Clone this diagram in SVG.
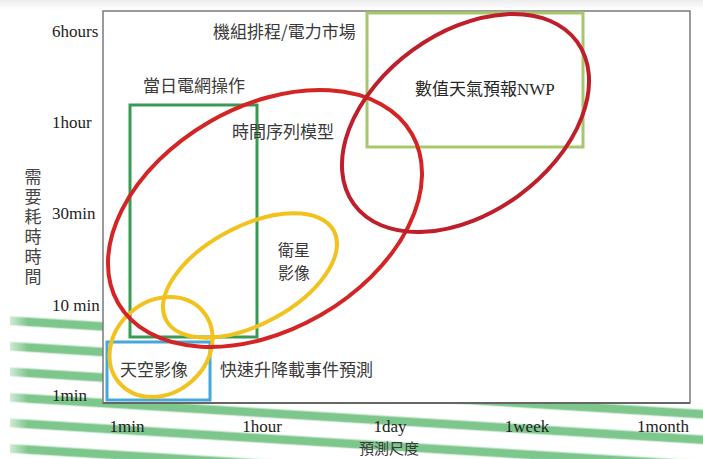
<svg xmlns="http://www.w3.org/2000/svg" width="703" height="459" viewBox="0 0 703 459">
  <defs>
    <style>
      .ax{font-family:"Liberation Serif","Times New Roman",serif;font-size:17px;fill:#1e1e1e}
      .cj{font-family:"Noto Sans CJK TC","Noto Sans CJK SC",sans-serif;font-size:17px;fill:#3a3a3a}
      .red{fill:none;stroke:#d42424;stroke-width:4}
      .red2{fill:none;stroke:#bf1f2a;stroke-width:4}
      .yel{fill:none;stroke:#f2c21e;stroke-width:4}
    </style>
    <pattern id="stripes" patternUnits="userSpaceOnUse" width="703" height="25.5" patternTransform="rotate(3.5)">
      <rect x="0" y="9.5" width="703" height="8" fill="#7dc68c"/>
      <rect x="0" y="8.5" width="703" height="10" fill="#7dc68c" opacity="0.35"/>
    </pattern>
    <clipPath id="stripeClip">
      <polygon points="10,316 110,316 110,403 703,403 703,459 10,459"/>
    </clipPath>
    <linearGradient id="fadeL" x1="0" y1="0" x2="1" y2="0">
      <stop offset="0" stop-color="#fff" stop-opacity="1"/>
      <stop offset="1" stop-color="#fff" stop-opacity="0"/>
    </linearGradient>
    <linearGradient id="topG" x1="0" y1="0" x2="0" y2="1">
      <stop offset="0" stop-color="#ececec"/>
      <stop offset="1" stop-color="#ffffff"/>
    </linearGradient>
  </defs>

  <g id="background">
    <rect x="0" y="0" width="703" height="459" fill="#ffffff"/>
    <rect x="0" y="0" width="703" height="10" fill="url(#topG)"/>
    <rect x="0" y="300" width="703" height="159" fill="url(#stripes)" clip-path="url(#stripeClip)"/>
    <rect x="0" y="300" width="28" height="159" fill="url(#fadeL)"/>
  </g>

  <g id="plot-frame">
    <rect x="103" y="11" width="587" height="392" fill="#ffffff" stroke="#7a7a7a" stroke-width="1.5"/>
    <line x1="103" y1="403" x2="690" y2="403" stroke="#666" stroke-width="2"/>
  </g>

  <g id="y-axis">
    <text class="ax" x="52" y="37">6hours</text>
    <text class="ax" x="52" y="128">1hour</text>
    <text class="ax" x="52" y="219">30min</text>
    <text class="ax" x="52" y="311">10 min</text>
    <text class="ax" x="52" y="401">1min</text>
    <text class="cj" x="33" y="168" writing-mode="vertical-rl" style="font-size:17px;fill:#444;letter-spacing:3px">需要耗時時間</text>
  </g>

  <g id="x-axis" text-anchor="middle">
    <text class="ax" x="127" y="432">1min</text>
    <text class="ax" x="262" y="432">1hour</text>
    <text class="ax" x="390" y="432">1day</text>
    <text class="ax" x="527" y="432">1week</text>
    <text class="ax" x="663" y="432">1month</text>
    <text class="cj" x="389" y="454" style="font-size:15px">預測尺度</text>
  </g>

  <g id="grid-ops">
    <rect x="130" y="105" width="127" height="232" fill="none" stroke="#3a9a55" stroke-width="3"/>
    <text class="cj" x="143" y="92">當日電網操作</text>
  </g>

  <g id="unit-commit">
    <text class="cj" x="213" y="38">機組排程/電力市場</text>
  </g>

  <g id="nwp">
    <rect x="367" y="13" width="216" height="134" fill="none" stroke="#a6c86a" stroke-width="3"/>
    <text class="cj" x="415" y="95" style="fill:#262626">數值天氣預報<tspan style="font-family:'Liberation Serif',serif">NWP</tspan></text>
  </g>

  <g id="sky-image">
    <rect x="107" y="342" width="103" height="58" fill="none" stroke="#45a8d8" stroke-width="3"/>
    <text class="cj" x="120" y="376">天空影像</text>
  </g>

  <g id="ramp-event">
    <text class="cj" x="220" y="376">快速升降載事件預測</text>
  </g>

  <g id="satellite">
    <ellipse class="yel" cx="250" cy="275.5" rx="95" ry="49" transform="rotate(-28 250 275.5)"/>
    <text class="cj" x="294" y="256" text-anchor="middle" style="font-size:16px">衛星</text>
    <text class="cj" x="294" y="279" text-anchor="middle" style="font-size:16px">影像</text>
  </g>

  <g id="sky-circle">
    <ellipse class="yel" cx="161" cy="347" rx="55" ry="46" transform="rotate(-40 161 347)"/>
  </g>

  <g id="time-series">
    <ellipse class="red" cx="265" cy="218.5" rx="169.5" ry="111.5" transform="rotate(-30 265 218.5)"/>
    <text class="cj" x="232" y="138">時間序列模型</text>
  </g>

  <g id="nwp-ellipse">
    <ellipse class="red2" cx="465.5" cy="123" rx="138" ry="90" transform="rotate(-36 465.5 123)"/>
  </g>

  <g id="connectors"></g>
</svg>
